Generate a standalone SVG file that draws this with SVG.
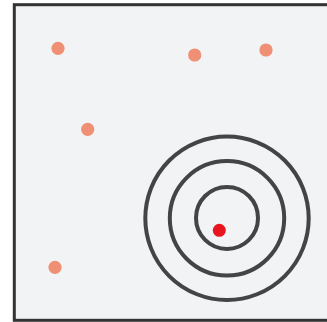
<svg xmlns="http://www.w3.org/2000/svg" width="327" height="322" viewBox="0 0 327 322">
  <style>
    .dot { fill: #ef8f73; }
    .ring { fill: none; stroke: #444; stroke-width: 4; }
  </style>
  <rect width="327" height="322" fill="#ffffff"/>
  <rect id="frame" x="14.3" y="4.7" width="330" height="315.6" fill="#f2f3f5" stroke="#333" stroke-width="3"/>
  <g id="dot1"><circle class="dot" cx="58" cy="48.3" r="6.6"/></g>
  <g id="dot2"><circle class="dot" cx="194.7" cy="55" r="6.6"/></g>
  <g id="dot3"><circle class="dot" cx="266" cy="50" r="6.6"/></g>
  <g id="dot4"><circle class="dot" cx="87.7" cy="129.3" r="6.6"/></g>
  <g id="dot5"><circle class="dot" cx="55" cy="267.3" r="6.6"/></g>
  <g id="rings">
    <circle class="ring" cx="227" cy="218.3" r="81.7"/>
    <circle class="ring" cx="227" cy="218.3" r="57.2"/>
    <circle class="ring" cx="227" cy="217.9" r="31"/>
  </g>
  <g id="target"><circle cx="219.3" cy="230.3" r="6.5" fill="#e8141e"/></g>
</svg>
